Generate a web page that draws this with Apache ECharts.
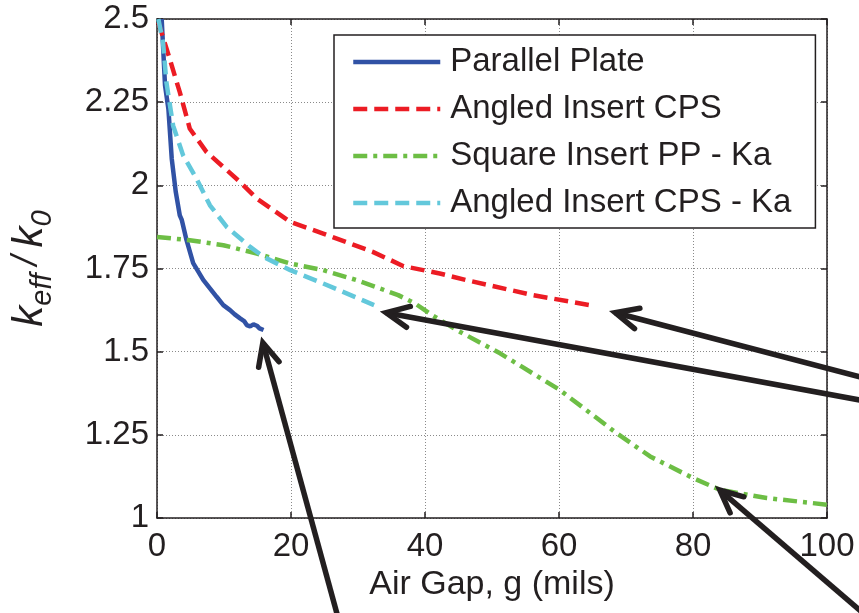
<!DOCTYPE html>
<html>
<head>
<meta charset="utf-8">
<script src="https://cdn.jsdelivr.net/npm/echarts@6/dist/echarts.min.js"></script>
<style>
  html, body { margin: 0; padding: 0; background: #ffffff; }
  #chart { width: 859px; height: 613px; }
</style>
</head>
<body>
<div id="chart"></div>
<script>
// Effective permittivity ratio versus air gap, four configurations.
const seriesNames = ['Parallel Plate', 'Angled Insert CPS', 'Square Insert PP - Ka', 'Angled Insert CPS - Ka'];

// [air gap (mils), k_eff / k_0]
const parallelPlate = [
  [0.7, 2.50], [1.2, 2.30], [1.7, 2.23], [2.2, 2.08], [2.8, 1.98], [3.4, 1.91],
  [3.7, 1.896], [4.4, 1.836], [5.4, 1.766], [6.9, 1.716], [8.9, 1.665], [9.9, 1.64],
  [10.9, 1.625], [11.6, 1.612], [12.4, 1.600], [13.0, 1.592], [13.4, 1.580],
  [13.9, 1.576], [14.4, 1.582], [14.9, 1.578], [15.3, 1.570], [15.9, 1.565]
];
const angledInsertCPS = [
  [0.2, 2.49], [1.9, 2.38], [3.4, 2.28], [4.9, 2.17], [7.4, 2.10], [12.4, 2.01],
  [14.9, 1.96], [19.9, 1.89], [24.8, 1.855], [32.2, 1.80], [36.8, 1.757],
  [42.2, 1.735], [46.2, 1.715], [56.1, 1.670], [64.6, 1.640]
];
const squareInsertPPKa = [
  [0.0, 1.845], [4.9, 1.835], [9.9, 1.82], [14.9, 1.795], [19.9, 1.765], [24.8, 1.745],
  [29.8, 1.715], [33.0, 1.692], [36.0, 1.670], [38.5, 1.645], [41.2, 1.608],
  [45.0, 1.562], [51.2, 1.495], [60.1, 1.385], [68.6, 1.255], [73.6, 1.185],
  [80.0, 1.120], [84.0, 1.085], [91.0, 1.060], [100.0, 1.040]
];
const angledInsertCPSKa = [
  [0.2, 2.50], [0.9, 2.43], [1.4, 2.31], [2.4, 2.18], [3.9, 2.09], [5.9, 2.02],
  [7.9, 1.94], [10.4, 1.875], [13.9, 1.815], [15.9, 1.785], [19.9, 1.745],
  [24.8, 1.705], [32.4, 1.640]
];

// Axis ticks
const xTicks = [0, 20, 40, 60, 80, 100];
const yTicks = [1, 1.25, 1.5, 1.75, 2, 2.25, 2.5];

// Callout arrows: tip and tail in data units
const arrowTips  = [[68.4, 1.617], [34.2, 1.617], [15.8, 1.527], [84.0, 1.084]];
const arrowTails = [[108.0, 1.408], [108.0, 1.343], [27.3, 0.680], [108.0, 0.669]];

const colors = ['#3152A5', '#EC1C24', '#6DBE45', '#63C8DB'];
const FONT = "'Liberation Sans', Arial, Helvetica, sans-serif";
const INK = '#231F20';

const chart = echarts.init(document.getElementById('chart'), null, { renderer: 'canvas' });

const gridRect = { left: 157, right: 32, top: 19, bottom: 95 };

function mainXAxis() {
  return {
    type: 'value', min: xTicks[0], max: xTicks[xTicks.length - 1], interval: 20,
    name: 'Air Gap, g (mils)', nameLocation: 'middle', nameGap: 46,
    nameTextStyle: { fontFamily: FONT, fontSize: 34, color: INK },
    axisLine: { show: true, onZero: false, lineStyle: { color: INK, width: 1.5 } },
    axisTick: { show: true, inside: true, length: 6, lineStyle: { color: INK, width: 1.5 } },
    axisLabel: { fontFamily: FONT, fontSize: 33, color: INK, margin: 12 },
    splitLine: { show: true, lineStyle: { color: '#8a8a8a', type: [1, 2], width: 1 } }
  };
}
function mainYAxis() {
  return {
    type: 'value', min: yTicks[0], max: yTicks[yTicks.length - 1], interval: 0.25,
    name: '{k|k}{sub|eff}{sl|/}{k|k}{sub|0}', nameLocation: 'middle', nameGap: 80, nameRotate: 90,
    nameTextStyle: {
      fontFamily: FONT, color: INK,
      rich: {
        k: { fontFamily: FONT, fontSize: 42, fontStyle: 'italic', color: INK, lineHeight: 42, verticalAlign: 'top' },
        sl: { fontFamily: FONT, fontSize: 36, fontStyle: 'italic', color: INK, lineHeight: 42, verticalAlign: 'top', padding: [0, 8, 0, 8] },
        sub: { fontFamily: FONT, fontSize: 29, fontStyle: 'italic', color: INK, lineHeight: 68 }
      }
    },
    axisLine: { show: true, onZero: false, lineStyle: { color: INK, width: 1.5 } },
    axisTick: { show: true, inside: true, length: 6, lineStyle: { color: INK, width: 1.5 } },
    axisLabel: { fontFamily: FONT, fontSize: 33, color: INK, margin: 8 },
    splitLine: { show: true, lineStyle: { color: '#8a8a8a', type: [1, 2], width: 1 } }
  };
}
function mirrorAxis(base, position) {
  return Object.assign({}, base, {
    position: position, name: '',
    axisLabel: { show: false },
    splitLine: { show: false }
  });
}

const xMain = mainXAxis();
const yMain = mainYAxis();

function lineSeries(name, data, color, dash) {
  return {
    name: name, type: 'line', data: data, xAxisIndex: 0, yAxisIndex: 0,
    symbol: 'none', showSymbol: false, smooth: false, clip: true,
    lineStyle: { color: color, width: 4.5, type: dash, cap: 'butt' },
    itemStyle: { color: color },
    emphasis: { disabled: true }, z: 3
  };
}

chart.setOption({
  animation: false,
  backgroundColor: '#ffffff',
  grid: Object.assign({ containLabel: false, show: false }, gridRect),
  xAxis: [xMain, mirrorAxis(xMain, 'top')],
  yAxis: [yMain, mirrorAxis(yMain, 'right')],
  legend: {
    show: true, orient: 'vertical', left: 334, top: 35, width: 480,
    data: seriesNames,
    itemWidth: 87, itemHeight: 14, itemGap: 11,
    padding: [9, 24, 7, 17],
    backgroundColor: '#ffffff', borderColor: INK, borderWidth: 1.5, borderRadius: 0,
    itemStyle: { opacity: 0 },
    lineStyle: { width: 4.5 },
    textStyle: { fontFamily: FONT, fontSize: 33, color: INK, lineHeight: 36, padding: [0, 0, 0, 5] },
    selectedMode: false
  },
  series: [
    lineSeries(seriesNames[0], parallelPlate, colors[0], 'solid'),
    lineSeries(seriesNames[1], angledInsertCPS, colors[1], [14, 7]),
    lineSeries(seriesNames[2], squareInsertPPKa, colors[2], [14, 6, 4, 6]),
    lineSeries(seriesNames[3], angledInsertCPSKa, colors[3], [14, 7])
  ]
});

// Callout arrows placed through the axis scales
function buildArrows() {
  const elems = [];
  const headLen = 25, headAngle = 25 * Math.PI / 180;
  arrowTips.forEach(function (tip, i) {
    const p = chart.convertToPixel({ gridIndex: 0 }, tip);
    const q = chart.convertToPixel({ gridIndex: 0 }, arrowTails[i]);
    const ang = Math.atan2(q[1] - p[1], q[0] - p[0]);
    const b1 = [p[0] + headLen * Math.cos(ang + headAngle), p[1] + headLen * Math.sin(ang + headAngle)];
    const b2 = [p[0] + headLen * Math.cos(ang - headAngle), p[1] + headLen * Math.sin(ang - headAngle)];
    elems.push({
      type: 'polyline', silent: true, z: 100,
      shape: { points: [p, q] },
      style: { stroke: INK, lineWidth: 5.5, fill: null, lineCap: 'butt' }
    });
    elems.push({
      type: 'polyline', silent: true, z: 100,
      shape: { points: [b1, p, b2] },
      style: { stroke: INK, lineWidth: 5.5, fill: null, lineCap: 'round', lineJoin: 'miter' }
    });
  });
  return elems;
}
chart.setOption({ graphic: { elements: buildArrows() } });
</script>
</body>
</html>
